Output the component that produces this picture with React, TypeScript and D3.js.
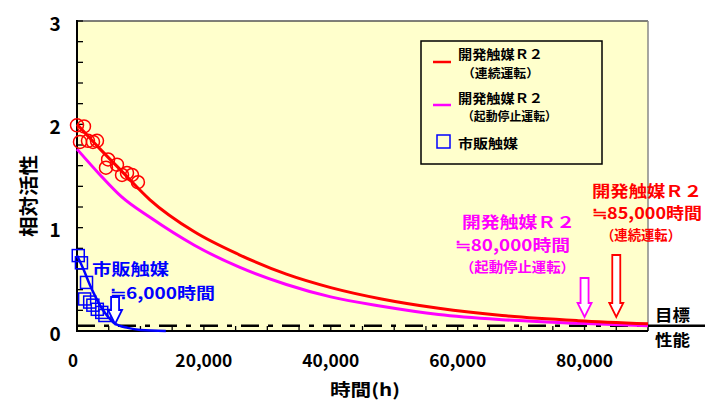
import * as d3 from 'd3';
import React from 'react';

// 相対活性の経時変化
const hours = [0, 3500, 7000, 11500, 18500, 25500, 33000, 40000, 48000, 57000, 67000, 79000, 90000];
const redVals = [2.0, 1.77, 1.55, 1.27, 0.96, 0.74, 0.55, 0.42, 0.31, 0.22, 0.15, 0.1, 0.07];
const pinkVals = [1.76, 1.52, 1.3, 1.1, 0.83, 0.62, 0.45, 0.33, 0.24, 0.16, 0.11, 0.075, 0.05];

const blueHours = [0, 1000, 2000, 3000, 4000, 5000, 6000, 8000, 10000, 14000];
const blueVals = [0.73, 0.6, 0.45, 0.32, 0.21, 0.13, 0.07, 0.03, 0.01, 0.0];

const circleHours = [0, 1100, 470, 1730, 2520, 3150, 4900, 4570, 6300, 7100, 7880, 8670, 9600];
const circleVals = [1.99, 1.98, 1.83, 1.84, 1.83, 1.84, 1.66, 1.58, 1.61, 1.51, 1.53, 1.51, 1.44];

const squareHours = [200, 700, 1500, 1200, 2000, 2500, 3200, 3900, 4400];
const squareVals = [0.73, 0.66, 0.47, 0.31, 0.28, 0.25, 0.21, 0.18, 0.15];

const targetValue = 0.05;
const xTicks = [0, 20000, 40000, 60000, 80000];
const yTicks = [0, 1, 2, 3];

const FONT = '"Noto Sans CJK JP", "Noto Sans", sans-serif';
const RED = '#ff0000';
const PINK = '#ff00ff';
const BLUE = '#0000ff';

function DownArrow({ x, y1, y2, color }) {
    const sw = 4, hw = 7, hl = 14;
    const d = `M${x - sw},${y1} L${x + sw},${y1} L${x + sw},${y2 - hl} L${x + hw},${y2 - hl} L${x},${y2} L${x - hw},${y2 - hl} L${x - sw},${y2 - hl} Z`;
    return <path d={d} fill="#fff" stroke={color} strokeWidth={1.8} />;
}

function Label({ x, y, text, len, color, size = 15.5, anchor = 'start' }) {
    return (
        <text x={x} y={y} fill={color} fontSize={size} fontWeight="bold" fontFamily={FONT}
            textLength={len} lengthAdjust="spacingAndGlyphs" textAnchor={anchor} dominantBaseline="central">
            {text}
        </text>
    );
}

export default function App() {
    const width = 705, height = 402;
    const x = d3.scaleLinear().domain([0, 90000]).range([77, 648]);
    const y = d3.scaleLinear().domain([0, 3]).range([331, 21]);

    const line = d3.line().x(d => x(d[0])).y(d => y(d[1])).curve(d3.curveMonotoneX);
    const red = line(hours.map((h, i) => [h, redVals[i]]));
    const pink = line(hours.map((h, i) => [h, pinkVals[i]]));
    const blue = line(blueHours.map((h, i) => [h, blueVals[i]]));

    const yMinor = d3.range(0, 3.0001, 0.2);
    const xMinor = d3.range(0, 90001, 5000);

    return (
        <svg width={width} height={height} style={{ position: 'absolute', left: 0, top: 0 }}>
            <rect x={0} y={0} width={width} height={height} fill="#fff" />
            {/* plot area */}
            <rect x={x(0)} y={y(3)} width={x(90000) - x(0)} height={y(0) - y(3)} fill="#ffffcc" />
            <line x1={x(0)} x2={x(90000)} y1={y(3)} y2={y(3)} stroke="#555" strokeWidth={1.5} />
            <line x1={x(90000)} x2={x(90000)} y1={y(3)} y2={y(0)} stroke="#888" strokeWidth={1.5} />

            {/* target line */}
            <line x1={x(0)} x2={x(90000)} y1={y(targetValue)} y2={y(targetValue)} stroke="#000" strokeWidth={2.5}
                strokeDasharray="18,9,5,9" />
            <line x1={x(90000)} x2={width} y1={y(targetValue)} y2={y(targetValue)} stroke="#000" strokeWidth={2.5} />

            {/* axes */}
            {yMinor.map((v, i) => (
                <line key={'yt' + i} x1={x(0)} x2={x(0) + 6} y1={y(v)} y2={y(v)} stroke="#000" strokeWidth={1.3} />
            ))}
            {xMinor.map((v, i) => (
                <line key={'xt' + i} x1={x(v)} x2={x(v)} y1={y(0)} y2={y(0) - 5} stroke="#000" strokeWidth={1.3} />
            ))}
            <line x1={x(0)} x2={x(0)} y1={y(3) - 1} y2={y(0) + 1} stroke="#000" strokeWidth={2} />
            <line x1={x(0)} x2={x(90000)} y1={y(0)} y2={y(0)} stroke="#000" strokeWidth={2} />

            {yTicks.map(v => (
                <text key={'yl' + v} x={55} y={y(v) + 1} fontSize={19} fontWeight="bold" fontFamily={FONT}
                    textAnchor="middle" dominantBaseline="central">{v}</text>
            ))}
            {xTicks.map(v => (
                <text key={'xl' + v} x={x(v) - (v === 0 ? 4 : 0)} y={359} fontSize={17} fontWeight="bold" fontFamily={FONT}
                    textAnchor="middle" dominantBaseline="central"
                    textLength={v === 0 ? undefined : 57} lengthAdjust="spacingAndGlyphs">{d3.format(',')(v)}</text>
            ))}
            <text x={365} y={388} fontSize={17} fontWeight="bold" fontFamily={FONT} textAnchor="middle"
                dominantBaseline="central" textLength={70} lengthAdjust="spacingAndGlyphs">時間(h)</text>
            <text transform="translate(27,196) rotate(-90)" fontSize={19} fontWeight="bold" fontFamily={FONT}
                textAnchor="middle" dominantBaseline="central" textLength={82} lengthAdjust="spacingAndGlyphs">相対活性</text>

            {/* series */}
            <path d={pink} fill="none" stroke={PINK} strokeWidth={3} />
            <path d={red} fill="none" stroke={RED} strokeWidth={3} />
            <path d={blue} fill="none" stroke={BLUE} strokeWidth={2.5} />
            {circleHours.map((h, i) => (
                <circle key={'c' + i} cx={x(h)} cy={y(circleVals[i])} r={6.5} fill="none" stroke={RED} strokeWidth={1.5} />
            ))}
            {squareHours.map((h, i) => (
                <rect key={'s' + i} x={x(h) - 6} y={y(squareVals[i]) - 6} width={12} height={12} fill="none"
                    stroke={BLUE} strokeWidth={1.5} />
            ))}

            {/* annotations */}
            <Label x={92} y={268} text="市販触媒" len={77} color={BLUE} />
            <Label x={110} y={292} text="≒6,000時間" len={105} color={BLUE} />
            <DownArrow x={x(6000)} y1={297} y2={324} color={BLUE} />

            <Label x={462} y={221} text="開発触媒Ｒ２" len={113} color={PINK} />
            <Label x={455} y={244} text="≒80,000時間" len={115} color={PINK} />
            <Label x={460} y={266} text="（起動停止運転）" len={115} color={PINK} size={13.5} />
            <DownArrow x={x(80000)} y1={278} y2={317} color={PINK} />

            <Label x={592} y={190} text="開発触媒Ｒ２" len={110} color={RED} />
            <Label x={592} y={212} text="≒85,000時間" len={110} color={RED} />
            <Label x={601} y={234} text="（連続運転）" len={80} color={RED} size={13.5} />
            <DownArrow x={x(85000)} y1={255} y2={317} color={RED} />

            <Label x={655} y={314} text="目標" len={35} color="#000" size={16} />
            <Label x={655} y={339} text="性能" len={35} color="#000" size={16} />

            {/* legend */}
            <rect x={421} y={41} width={181} height={123} fill="#ffffcc" stroke="#000" strokeWidth={1.5} />
            <line x1={433} x2={451} y1={62} y2={62} stroke={RED} strokeWidth={2.5} />
            <Label x={458} y={53} text="開発触媒Ｒ２" len={85} color="#000" size={13} />
            <Label x={462} y={72} text="（連続運転）" len={77} color="#000" size={12} />
            <line x1={433} x2={451} y1={105} y2={105} stroke={PINK} strokeWidth={2.5} />
            <Label x={458} y={97} text="開発触媒Ｒ２" len={85} color="#000" size={13} />
            <Label x={462} y={115} text="（起動停止運転）" len={95} color="#000" size={12} />
            <rect x={437} y={135} width={13} height={13} fill="none" stroke={BLUE} strokeWidth={1.5} />
            <Label x={458} y={142} text="市販触媒" len={60} color="#000" size={13} />
        </svg>
    );
}
